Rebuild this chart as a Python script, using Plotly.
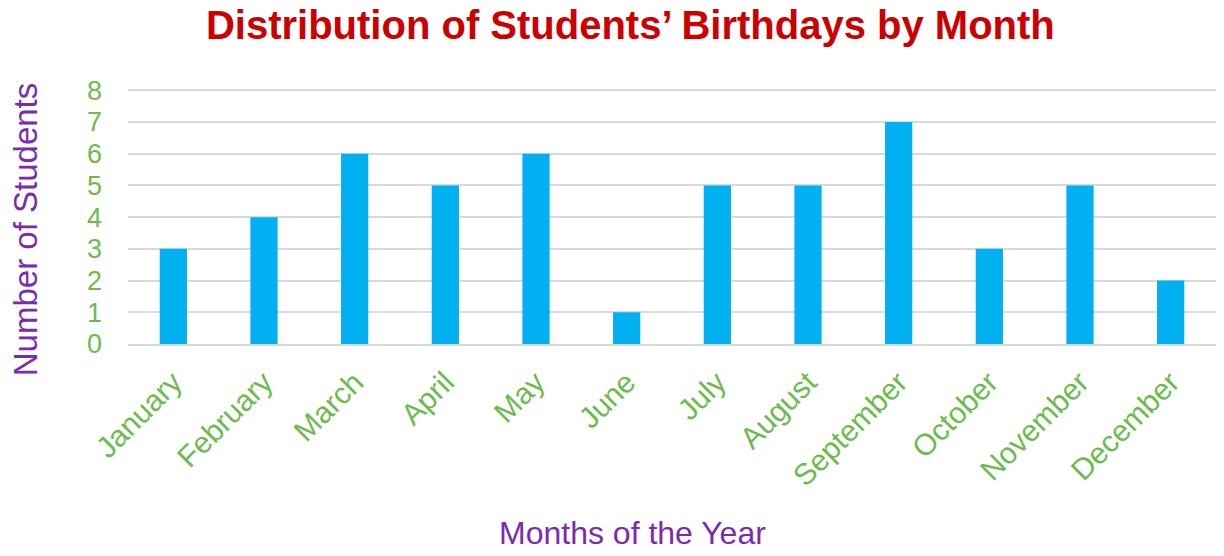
import plotly.graph_objects as go

months = ["January", "February", "March", "April", "May", "June", "July",
          "August", "September", "October", "November", "December"]
students = [3, 4, 6, 5, 6, 1, 5, 5, 7, 3, 5, 2]
y_ticks = [0, 1, 2, 3, 4, 5, 6, 7, 8]

FONT = "Liberation Sans, Arial, sans-serif"
GREEN = "#6DBB4E"
PURPLE = "#7A2BB0"

fig = go.Figure(go.Bar(x=months, y=students, marker=dict(color="#00B0F0", line=dict(width=0))))

fig.update_layout(
    width=1224, height=556,
    margin=dict(l=128, r=8, t=89, b=212, autoexpand=False),
    paper_bgcolor="white", plot_bgcolor="white",
    bargap=0.7,
    showlegend=False,
    title=dict(text="<b>Distribution of Students’ Birthdays by Month</b>",
               x=0.515, xanchor="center", y=0.955, yanchor="middle",
               font=dict(family=FONT, size=40, color="#CC0000")),
    font=dict(family=FONT),
    annotations=[
        dict(text="Number of Students", textangle=-90, xref="paper", yref="paper",
             x=-0.0947, y=0.45, xanchor="center", yanchor="middle", showarrow=False,
             font=dict(size=33, color=PURPLE)),
        dict(text="Months of the Year", xref="paper", yref="paper",
             x=0.464, y=-0.74, xanchor="center", yanchor="middle", showarrow=False,
             font=dict(size=32, color=PURPLE)),
    ],
)
fig.update_yaxes(range=[0, 8.04], tickvals=y_ticks, showgrid=True, gridcolor="#D9D9D9",
                 gridwidth=1.5, zeroline=False, showline=False, automargin=False,
                 tickfont=dict(size=27, color=GREEN), ticklabelstandoff=25)
fig.update_xaxes(tickangle=-45, showline=True, linecolor="#D9D9D9", linewidth=1.5,
                 automargin=False,
                 tickfont=dict(size=30, color=GREEN), ticks="", ticklabelstandoff=7)

fig.write_html("out.html")
